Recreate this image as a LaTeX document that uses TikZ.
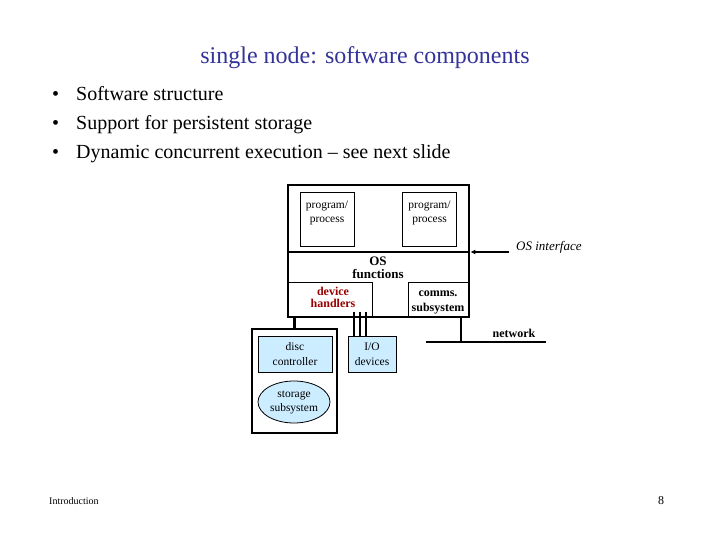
\documentclass[tikz,border=0pt]{standalone}
\usepackage{fontspec}
\setmainfont{Liberation Serif}
\usetikzlibrary{shapes.geometric,arrows.meta}
\newcommand{\fsz}[2]{\fontsize{#1}{#2}\selectfont}
\begin{document}
\begin{tikzpicture}[x=1pt, y=-1pt]
    \definecolor{titleblue}{RGB}{51,51,153}
    \definecolor{hwfill}{RGB}{204,236,255}
    \definecolor{drvred}{RGB}{153,0,0}
    \tikzset{
        box/.style={draw, line width=0.8pt, inner sep=0pt, align=center},
        hwbox/.style={box, fill=hwfill, font=\fsz{11.5}{15}},
        heavy/.style={line width=2.8pt},
        lbl/.style={inner sep=0pt, align=center, font=\fsz{11.5}{14}},
    }
    \useasboundingbox[fill=white] (0,0) rectangle (720,540);

    \node[titleblue, inner sep=0pt, font=\fsz{24}{28}] (title) at (365,58) {single node: software components};
    \foreach \t [count=\i] in {Software structure, Support for persistent storage,
        Dynamic concurrent execution -- see next slide} {
        \node[anchor=base west, inner sep=0pt, font=\fsz{20}{24}] (bul\i) at (52, 72+29*\i) {•};
        \node[anchor=base west, inner sep=0pt, font=\fsz{20}{24}] (item\i) at (76, 72+29*\i) {\t};
    }

    \node[box, minimum width=54pt, minimum height=54pt] (prog1) at (327,219) {};
    \node[lbl, anchor=north] (prog1txt) at ([yshift=-9pt]prog1.north) {program/\\process};
    \node[box, minimum width=54pt, minimum height=54pt] (prog2) at (429.5,219) {};
    \node[lbl, anchor=north] (prog2txt) at ([yshift=-9pt]prog2.north) {program/\\process};

    \node[box, minimum width=84pt, minimum height=35pt] (drv) at (330,299.5) {};
    \node[lbl, drvred, font={\fsz{12}{12}\bfseries}] (drvtxt) at (333,297) {device\\handlers};
    \node[box, minimum width=61pt, minimum height=35pt] (comms) at (438.5,299.5) {};
    \node[lbl, font={\fsz{12}{15}\bfseries}] (commstxt) at (438,302) {comms.\\subsystem};

    \node[draw, heavy, minimum width=181pt, minimum height=132pt] (host) at (378.5,251) {};
    \coordinate (ifpt) at (host.east |- 0,252);
    \draw[heavy] (host.west |- ifpt) -- (ifpt);
    \node[lbl, font={\fsz{13}{13}\bfseries}] (osfn) at (378,268) {OS\\functions};

    \node[anchor=west, inner sep=0pt, font={\fsz{13}{14}\itshape}] (osif) at (516,247) {OS interface};
    \coordinate (ifend) at (509,252);
    \draw[line width=1.4pt, -{Latex[length=5pt,width=5pt]}] (ifend) -- (ifpt);

    \node[hwbox, minimum width=48pt, minimum height=36pt] (io) at (372,354) {I/O\\devices};
    \foreach \dx in {-18,-12,-6}
        \draw[line width=2pt] ([xshift=\dx pt]io.north) -- ++(0,-24);

    \node[draw, line width=2.2pt, minimum width=85pt, minimum height=104pt] (store) at (294.5,381) {};
    \node[hwbox, minimum width=74pt, minimum height=36pt] (disc) at (295,354) {disc\\controller};
    \node[hwbox, ellipse, minimum width=72pt, minimum height=42pt] (stsub) at (294,402) {};
    \node[lbl] (stsubtxt) at (294,403) {storage\\subsystem};
    \draw[heavy] (store.north) -- (store.north |- host.south);

    \coordinate (netL) at (426,342);
    \coordinate (netR) at (546,342);
    \coordinate (nettap) at (461,342);
    \draw[heavy] (netL) -- (netR);
    \draw[line width=2pt] (nettap) -- (nettap |- host.south);
    \node[inner sep=0pt, font={\fsz{12}{12}\bfseries}] (netlbl) at (514,333) {network};

    \node[anchor=west, inner sep=0pt, font=\fsz{10}{12}] (foot) at (49,501) {Introduction};
    \node[inner sep=0pt, font=\fsz{12}{12}] (page) at (661,501) {8};
\end{tikzpicture}
\end{document}
